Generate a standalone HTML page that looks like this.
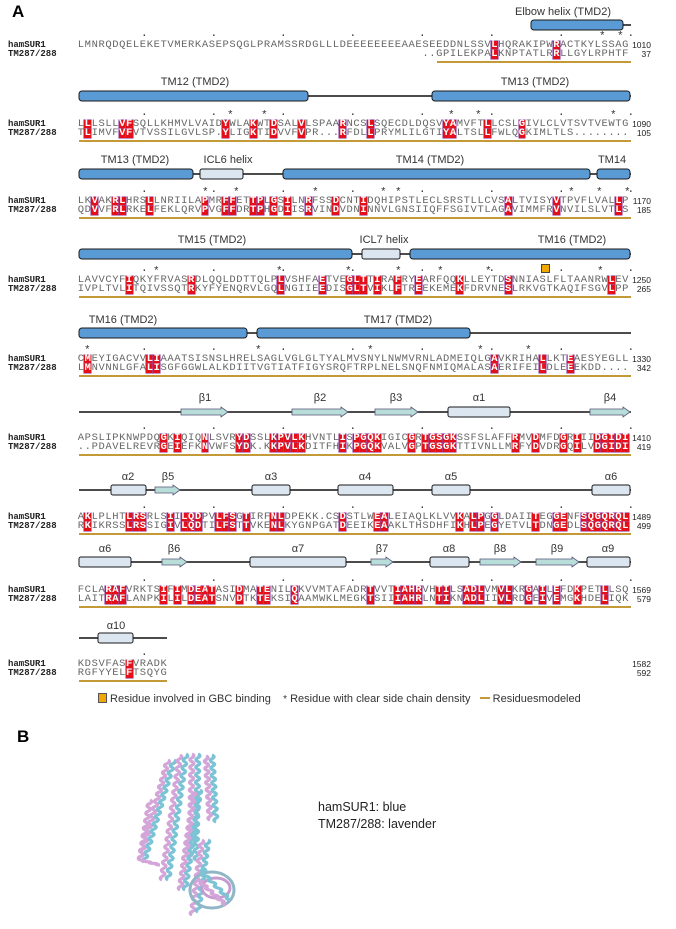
<!DOCTYPE html>
<html><head><meta charset="utf-8">
<style>
body{margin:0;width:676px;height:929px;background:#fff;position:relative;overflow:hidden;font-family:"Liberation Sans",sans-serif}
.a{position:absolute;white-space:pre}
.seq{font-family:"Liberation Mono",monospace;font-size:10.5px;line-height:9px;color:#666}
.seq i{display:inline-block;width:6.9px;text-align:center;font-style:normal;height:9px}
.seq i.r{background:#e3101a;color:#fff;font-weight:bold;box-shadow:0 0 0 0.6px #9a4aa6}
.nm{font-family:"Liberation Mono",monospace;font-weight:bold;font-size:9px;line-height:9px;color:#222}
.num{font-size:8.5px;line-height:9px;color:#222;text-align:right;width:40px}
.lb{font-size:11px;color:#333;transform:translateX(-50%)}
.gold{position:absolute;height:2px;background:#c49a38}
.mk{font-family:"Liberation Mono",monospace;font-size:11px;color:#333}
</style></head><body>
<div class="a" style="left:12px;top:2px;font-weight:bold;font-size:17px">A</div>
<div class="a" style="left:17px;top:727px;font-weight:bold;font-size:17px">B</div>
<svg id="ss" class="a" style="left:0;top:0" width="676" height="929"></svg>
<div id="c"></div>
<div class="a" style="left:98px;top:693px;font-size:11px;color:#333"><span style="display:inline-block;width:7px;height:8px;background:#f0a800;border:1px solid #555;vertical-align:-1px"></span> Residue involved in GBC binding &nbsp;&nbsp; <span style="font-size:10px">*</span> Residue with clear side chain density &nbsp;&nbsp;<span style="display:inline-block;width:10px;height:2px;background:#c49a38;vertical-align:3px"></span> Residuesmodeled</div>
<div class="a" style="left:318px;top:799px;font-size:12.5px;color:#222;line-height:17px">hamSUR1: blue<br>TM287/288: lavender</div>
<svg class="a" style="left:130px;top:740px" width="120" height="185" id="prot"></svg>
<script>
const B=[
{y:45,s:"LMNRQDQELEKETVMERKASEPSQGLPRAMSSRDGLLLDEEEEEEEEAAESEEDDNLSSVLHQRAKIPWRACTKYLSSAGI",t:"..GPILEKPALKNPTATLRRLLGYLRPHTF",n:["1010","37"],g:[437,631],st:[602,620],L:[[563,12,"Elbow helix (TMD2)"]],E:[["l",531,631],["h",531,623]],by:25},
{y:124,s:"LLLSLLVFSQLLKHMVLVAIDYWLAKWTDSALVLSPAARNCSLSQECDLDQSVYAMVFTLLCSLGIVLCLVTSVTVEWTG",t:"TLIMVFVFVTVSSILGVLSP.YLIGKTIDVVFVPR...RFDLLPRYMLILGTIYALTSLLFWLQGKIMLTLS........",n:["1090","105"],g:[79,631],st:[230,264,451,478,613],L:[[195,82,"TM12 (TMD2)"],[535,82,"TM13 (TMD2)"]],E:[["l",79,631],["h",79,308],["h",432,630]],by:96},
{y:201,s:"LKVAKRLHRSLLNRIILAPMRFFETTPLGSILNRFSSDCNTIDQHIPSTLECLSRSTLLCVSALTVISYVTPVFLVALLP",t:"QDVVFRLRKELFEKLQRVPVGFFDRTPHGDIISRVINDVDNINNVLGNSIIQFFSGIVTLAGAVIMMFRVNVILSLVTLS",n:["1170","185"],g:[79,631],st:[205,236,315,383,398,571,599,627],L:[[135,160,"TM13 (TMD2)"],[228,160,"ICL6 helix"],[430,160,"TM14 (TMD2)"],[612,160,"TM14"]],E:[["l",79,631],["h",79,193],["w",200,243],["h",283,590],["h",597,630]],by:174},
{y:280,s:"LAVVCYFIQKYFRVASRDLQQLDDTTQLPLVSHFAETVEGLTTIRAFRYEARFQQKLLEYTDSNNIASLFLTAANRWLEV",t:"IVPLTVLITQIVSSQTRKYFYENQRVLGQLNGIIEEDISGLTVIKLFTREEKEMEKFDRVNESLRKVGTKAQIFSGVLPP",n:["1250","265"],g:[79,631],st:[156,279,348,398,440,488,600],L:[[212,240,"TM15 (TMD2)"],[384,240,"ICL7 helix"],[572,240,"TM16 (TMD2)"]],E:[["l",79,631],["h",79,352],["w",362,400],["h",410,630]],by:254,sq:541},
{y:359,s:"CMEYIGACVVLIAAATSISNSLHRELSAGLVGLGLTYALMVSNYLNWMVRNLADMEIQLGAVKRIHALLKTEAESYEGLL",t:"LMNVNNLGFALISGFGGWLALKDIITVGTIATFIGYSRQFTRPLNELSNQFNMIQMALASAERIFEILDLEEEKDD....",n:["1330","342"],g:[79,631],st:[87,258,370,480,528],L:[[123,320,"TM16 (TMD2)"],[398,320,"TM17 (TMD2)"]],E:[["l",79,631],["h",79,247],["h",257,470]],by:333},
{y:438,s:"APSLIPKNWPDQGKIQIQNLSVRYDSSLKPVLKHVNTLISPGQKIGICGRTGSGKSSFSLAFFRMVDMFDGRIIIDGIDI",t:"..PDAVELREVRGEIEFKNVWFSYDK.KKPVLKDITFHIKPGQKVALVGPTGSGKTTIVNLLMRFYDVDRGQILVDGIDI",n:["1410","419"],g:[79,631],st:[],L:[[205,398,"β1"],[320,398,"β2"],[396,398,"β3"],[479,398,"α1"],[610,398,"β4"]],E:[["l",79,631],["a",181,228],["a",292,348],["a",375,418],["w",448,510],["a",590,630]],by:412},
{y:517,s:"AKLPLHTLRSRLSIILQDPVLFSGTIRFNLDPEKK.CSDSTLWEALEIAQLKLVVKALPGGLDAIITEGGENFSQGQRQL",t:"RKIKRSSLRSSIGIVLQDTILFSTTVKENLKYGNPGATDEEIKEAAKLTHSDHFIKHLPEGYETVLTDNGEDLSQGQRQL",n:["1489","499"],g:[79,631],st:[],L:[[128,477,"α2"],[168,477,"β5"],[271,477,"α3"],[365,477,"α4"],[451,477,"α5"],[611,477,"α6"]],E:[["l",79,631],["w",111,146],["a",155,180],["w",252,290],["w",338,393],["w",432,470],["w",592,630]],by:490},
{y:590,s:"FCLARAFVRKTSIFIMDEATASIDMATENILQKVVMTAFADRTVVTIAHRVHTILSADLVMVLKRGAILEFDKPETLLSQ",t:"LAITRAFLANPKILILDEATSNVDTKTEKSIQAAMWKLMEGKTSIIIAHRLNTIKNADLIIVLRDGEIVEMGKHDELIQK",n:["1569","579"],g:[79,631],st:[],L:[[105,549,"α6"],[174,549,"β6"],[298,549,"α7"],[382,549,"β7"],[449,549,"α8"],[500,549,"β8"],[557,549,"β9"],[608,549,"α9"]],E:[["l",79,631],["w",79,131],["a",162,187],["w",250,346],["a",371,393],["w",430,469],["a",480,521],["a",536,579],["w",587,630]],by:562},
{y:664,s:"KDSVFASFVRADK",t:"RGFYYELFTSQYG",n:["1582","592"],g:[79,167],st:[],L:[[116,626,"α10"]],E:[["l",79,167],["w",98,133]],by:638}
];
const x0=77.5,cw=6.95;let h="",sv="";
function hl(a,b){let r="";for(let i=0;i<a.length;i++){const c=a[i];if(c!=" "&&c!="."&&c==b[i])r+='<i class="r">'+c+"</i>";else r+="<i>"+(c==" "?"&nbsp;":c)+"</i>";}return r;}
for(const k of B){
if(k.s.length>80)k.s=k.s.slice(0,80);
if(k.t.length<k.s.length)k.t=k.t.padStart(k.s.length," ");
if(k.t.length>80)k.t=k.t.slice(0,80);
h+=`<div class="a nm" style="left:8px;top:${k.y-4}px">hamSUR1</div><div class="a nm" style="left:8px;top:${k.y+5}px">TM287/288</div>`;
h+=`<div class="a seq" style="left:${x0}px;top:${k.y-4}px">${hl(k.s,k.t)}</div><div class="a seq" style="left:${x0}px;top:${k.y+5}px">${hl(k.t,k.s)}</div>`;
h+=`<div class="a num" style="left:611px;top:${k.y-4}px">${k.n[0]}</div><div class="a num" style="left:611px;top:${k.y+5}px">${k.n[1]}</div>`;
h+=`<div class="gold" style="left:${k.g[0]}px;width:${k.g[1]-k.g[0]}px;top:${k.y+16}px"></div>`;
const len=k.s.length;for(let c=9;c<len;c+=10){h+=`<div class="a mk" style="left:${x0+c*cw+1}px;top:${k.y-17}px">.</div>`;}
for(const x of k.st)h+=`<div class="a mk" style="left:${x-3}px;top:${k.y-14}px">*</div>`;
if(k.sq)h+=`<div class="a" style="left:${k.sq}px;top:${k.y-16}px;width:7px;height:7px;background:#f0a800;border:1px solid #444"></div>`;
for(const l of k.L)h+=`<div class="a lb" style="left:${l[0]}px;top:${l[1]-6}px">${l[2]}</div>`;
const y=k.by;
for(const e of k.E){
 if(e[0]=="l")sv+=`<line x1="${e[1]}" y1="${y}" x2="${e[2]}" y2="${y}" stroke="#111" stroke-width="1.6"/>`;
 if(e[0]=="h")sv+=`<rect x="${e[1]}" y="${y-5}" width="${e[2]-e[1]}" height="10" rx="3" fill="#5b9bd5" stroke="#1a1a1a" stroke-width="1"/>`;
 if(e[0]=="w")sv+=`<rect x="${e[1]}" y="${y-5}" width="${e[2]-e[1]}" height="10" rx="2" fill="#dce6f1" stroke="#1a1a1a" stroke-width="1"/>`;
 if(e[0]=="a"){const a=e[1],b=e[2];sv+=`<polygon points="${a},${y-3} ${b-7},${y-3} ${b-7},${y-5} ${b},${y} ${b-7},${y+5} ${b-7},${y+3} ${a},${y+3}" fill="#b9ddd8" stroke="#557" stroke-width="0.8"/>`;}
}}
document.getElementById("c").innerHTML=h;
document.getElementById("ss").innerHTML=sv;
let p="";
function helix(x1,y1,x2,y2,col,n){let d=`M${x1},${y1}`;const dx=(x2-x1)/n,dy=(y2-y1)/n;for(let i=1;i<=n;i++){const s=i%2?4:-4;d+=` Q${x1+dx*(i-0.5)+s},${y1+dy*(i-0.5)} ${x1+dx*i},${y1+dy*i}`;}p+=`<path d="${d}" fill="none" stroke="${col}" stroke-width="3.2"/>`;}
const P="#d4a5d8",C="#7cc3d6";
helix(38,20,10,120,P,28);helix(44,20,14,122,C,28);
helix(50,15,32,140,P,32);helix(56,14,38,140,C,32);
helix(62,14,60,120,P,28);helix(68,14,66,120,C,28);
helix(76,16,80,80,P,18);helix(82,15,86,82,C,18);
helix(70,50,55,150,C,26);helix(64,52,50,150,P,26);
helix(20,60,10,120,P,16);
helix(72,100,62,175,P,20);helix(78,100,68,172,C,20);
p+=`<ellipse cx="82" cy="150" rx="22" ry="18" fill="none" stroke="#8fb7c6" stroke-width="3"/><ellipse cx="86" cy="148" rx="14" ry="10" fill="none" stroke="#c79bcf" stroke-width="3"/>`;
helix(70,130,100,160,C,10);helix(68,140,96,165,P,10);
helix(10,120,30,125,P,6);
document.getElementById("prot").innerHTML=p;
</script>
</body></html>
